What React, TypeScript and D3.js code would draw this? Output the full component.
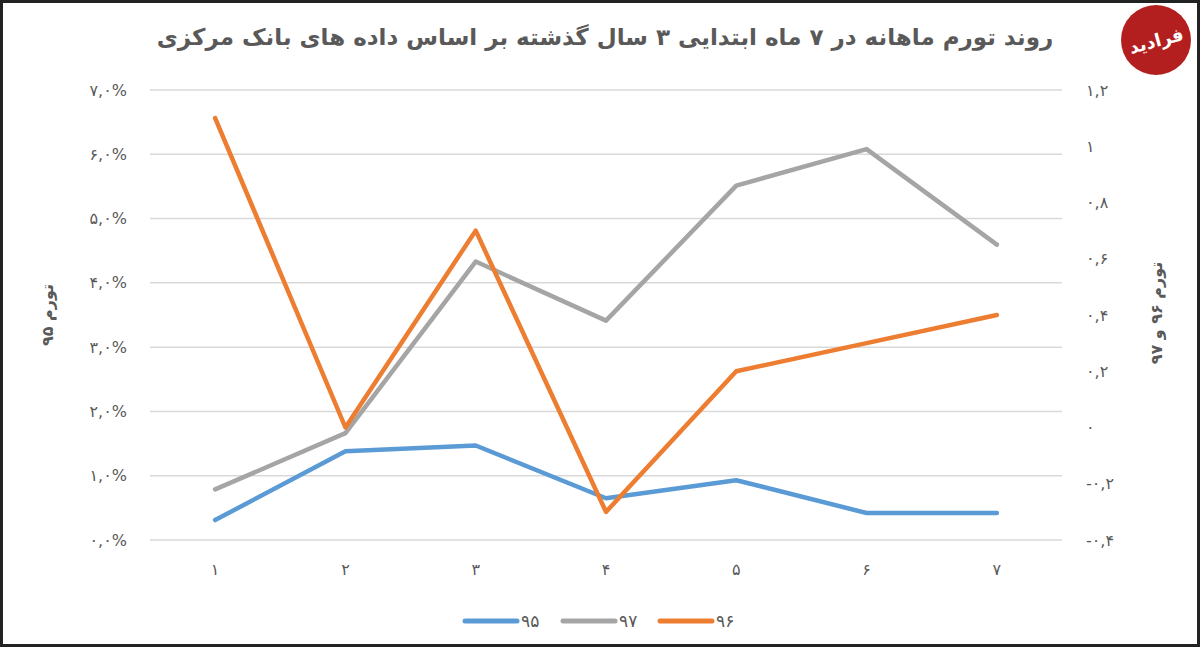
import React from "react";
import * as d3 from "d3";

const months = [1, 2, 3, 4, 5, 6, 7];
// تورم ماهانه ۹۵ (محور چپ، درصد)
const inflation95 = [0.0031, 0.0138, 0.0147, 0.0065, 0.0093, 0.0042, 0.0042];
// تورم ماهانه ۹۷ و ۹۶ (محور راست)
const inflation97 = [-0.22, -0.02, 0.59, 0.38, 0.86, 0.99, 0.65];
const inflation96 = [1.1, 0.0, 0.7, -0.3, 0.2, 0.3, 0.4];

const leftTicks = [0, 0.01, 0.02, 0.03, 0.04, 0.05, 0.06, 0.07];
const rightTicks = [-0.4, -0.2, 0, 0.2, 0.4, 0.6, 0.8, 1, 1.2];

const seriesNames = ["۹۵", "۹۷", "۹۶"];
const colors = ["#5B9BD5", "#A5A5A5", "#ED7D31"];

const W = 1200;
const H = 647;
const FONT = "'DejaVu Sans', 'Noto Sans', sans-serif";
const TEXT = "#595959";

const fa = (s: string) => s.replace(/[0-9]/g, (d) => "۰۱۲۳۴۵۶۷۸۹"[+d]);
const fmtLeft = (v: number) => fa((v * 100).toFixed(1).replace(".", ",")) + "%";
const fmtRight = (v: number) => {
	if (v === 0) return "۰";
	const s = Number.isInteger(v) ? String(v) : v.toFixed(1);
	return fa(s.replace(".", ","));
};

export default function App() {
	const x = d3.scaleBand<number>().domain(months).range([150, 1062]);
	const yLeft = d3.scaleLinear().domain([0, 0.07]).range([540, 90]);
	const yRight = d3.scaleLinear().domain([-0.4, 1.2]).range([540, 90]);
	const cx = (m: number) => (x(m) as number) + x.bandwidth() / 2;

	const lineLeft = d3
		.line<number>()
		.x((_, i) => cx(months[i]))
		.y((d) => yLeft(d));
	const lineRight = d3
		.line<number>()
		.x((_, i) => cx(months[i]))
		.y((d) => yRight(d));

	const paths = [lineLeft(inflation95), lineRight(inflation97), lineRight(inflation96)];

	const legendX = [465, 563, 660];

	return (
		<div style={{ position: "fixed", left: 0, top: 0 }}>
			<svg width={W} height={H} style={{ display: "block", background: "#fff" }} fontFamily={FONT}>
				<rect x={0} y={0} width={W} height={H} fill="#fff" />

				{/* title */}
				<text
					x={605}
					y={45}
					textAnchor="middle"
					fontSize={23}
					fontWeight="bold"
					fill={TEXT}
					direction="rtl"
				>
					روند تورم ماهانه در ۷ ماه ابتدایی ۳ سال گذشته بر اساس داده های بانک مرکزی
				</text>

				{/* gridlines */}
				{leftTicks.map((t) => (
					<line key={t} x1={150} x2={1062} y1={yLeft(t)} y2={yLeft(t)} stroke="#D9D9D9" strokeWidth={1.5} />
				))}

				{/* left axis */}
				{leftTicks.map((t) => (
					<text key={t} x={127} y={yLeft(t)} dy="0.35em" textAnchor="end" fontSize={16} fill={TEXT} direction="ltr">
						{fmtLeft(t)}
					</text>
				))}
				<text
					transform={`translate(53,315) rotate(-90)`}
					textAnchor="middle"
					fontSize={16}
					fontWeight="bold"
					fill={TEXT}
					direction="rtl"
				>
					تورم ۹۵
				</text>

				{/* right axis */}
				{rightTicks.map((t) => (
					<text key={t} x={1086} y={yRight(t)} dy="0.35em" textAnchor="start" fontSize={16} fill={TEXT} direction="ltr">
						{fmtRight(t)}
					</text>
				))}
				<text
					transform={`translate(1162,313) rotate(-90)`}
					textAnchor="middle"
					fontSize={16}
					fontWeight="bold"
					fill={TEXT}
					direction="rtl"
				>
					تورم ۹۶ و ۹۷
				</text>

				{/* x axis */}
				{months.map((m) => (
					<text key={m} x={cx(m)} y={569} dy="0.35em" textAnchor="middle" fontSize={16} fill={TEXT}>
						{fa(String(m))}
					</text>
				))}

				{/* series */}
				{paths.map((p, i) => (
					<path key={i} d={p ?? ""} fill="none" stroke={colors[i]} strokeWidth={4.5} strokeLinejoin="round" strokeLinecap="round" />
				))}

				{/* legend */}
				{seriesNames.map((n, i) => (
					<g key={n} transform={`translate(${legendX[i]},621)`}>
						<line x1={0} x2={52} y1={0} y2={0} stroke={colors[i]} strokeWidth={5} strokeLinecap="round" />
						<text x={56} y={0} dy="0.35em" fontSize={17} fill={TEXT}>
							{n}
						</text>
					</g>
				))}

				{/* logo */}
				<circle cx={1156} cy={40} r={35} fill="#B31E1E" />
				<text
					x={1156}
					y={47}
					textAnchor="middle"
					fontSize={18}
					fontWeight="bold"
					fill="#fff"
					direction="rtl"
					transform="rotate(-15,1156,40)"
				>
					فرادید
				</text>

				{/* frame */}
				<rect x={1.5} y={1.5} width={W - 3} height={H - 3} fill="none" stroke="#222" strokeWidth={3} />
			</svg>
		</div>
	);
}
